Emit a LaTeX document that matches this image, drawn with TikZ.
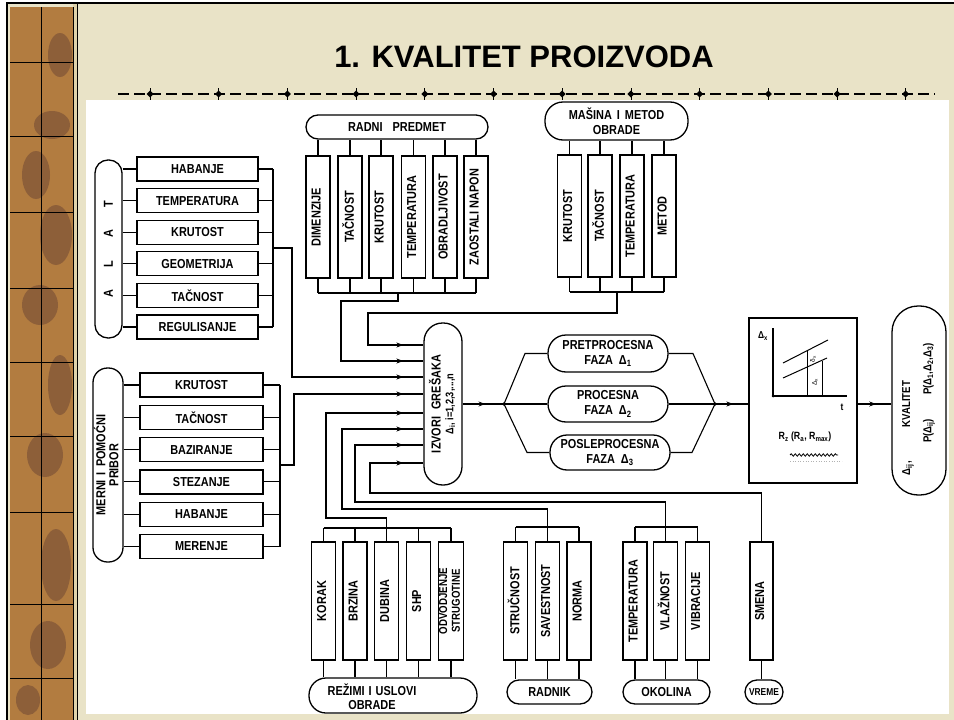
\documentclass[tikz,border=0pt]{standalone}
\usepackage{fontspec}
\setmainfont{Liberation Sans}
\newfontfamily\lblfont[FakeStretch=0.84]{Liberation Sans}
\usetikzlibrary{decorations.markings,decorations.pathmorphing,arrows.meta}
\definecolor{beige}{RGB}{233,227,199}
\definecolor{strip}{RGB}{178,124,64}
\definecolor{stripdark}{RGB}{112,72,52}
\definecolor{cream}{RGB}{222,210,170}
\newcommand{\vtx}[1]{\rotatebox{90}{\begin{tabular}{@{}c@{}}#1\end{tabular}}}
\renewcommand{\arraystretch}{0.85}
\tikzset{
 lbl/.style={font=\lblfont\bfseries\fontsize{13}{15}\selectfont},
 hbox/.style={draw, line width=1.3pt, lbl, minimum width=121pt, minimum height=24pt, inner sep=0pt},
 vbox/.style={draw, line width=1.3pt, lbl, minimum width=24pt, minimum height=122pt, inner sep=0pt},
 pill/.style={draw, line width=1.3pt, lbl, inner sep=0pt, align=center, rounded corners=#1},
 conn/.style={line width=1.1pt},
 flowarr/.style={conn, postaction={decorate}, decoration={markings, mark=at position -20pt with {\arrow{Stealth[length=7pt,width=5pt]}}}},
 midarr/.style={conn, postaction={decorate}, decoration={markings, mark=at position 0.55 with {\arrow{Stealth[length=7pt,width=5pt]}}}},
}
\begin{document}
\begin{tikzpicture}[x=1pt,y=-1pt]
\useasboundingbox (0,0) rectangle (954,720);
% background and frame
\fill[white] (0,0) rectangle (954,720);
\fill[beige] (8,4) rectangle (954,720);
\fill[strip] (10,7) rectangle (73,720);
\begin{scope}[stripdark, opacity=0.55]
\fill (60,55) ellipse (12 and 22);
\fill (52,125) ellipse (18 and 14);
\fill (36,175) ellipse (14 and 24);
\fill (56,235) ellipse (16 and 30);
\fill (40,305) ellipse (18 and 20);
\fill (60,385) ellipse (12 and 30);
\fill (45,455) ellipse (18 and 22);
\fill (56,565) ellipse (15 and 36);
\fill (48,645) ellipse (18 and 24);
\fill (28,700) ellipse (12 and 15);
\end{scope}
\draw[line width=0.6pt] (41,7) -- (41,720);
\foreach \yy in {62,136,212,288,362,436,512,604,678} \draw[line width=0.6pt] (10,\yy) -- (73,\yy);
\fill[cream] (73,4) rectangle (78,720);
\draw[line width=0.5pt] (73,7) -- (73,720);
\draw[line width=0.8pt] (77.5,4) -- (77.5,720);
\draw[line width=2pt] (7,720) -- (7,3) -- (954,3);
% title
\node[font=\bfseries\fontsize{31}{31}\selectfont] (title) at (524,57) {1. KVALITET PROIZVODA};
% dashed rule
\draw[line width=1.6pt, dash pattern=on 11pt off 5pt] (118,94) -- (935,94);
\foreach \k in {0,...,11} {
  \fill ({150+68.7*\k},90.5) -- ({153.5+68.7*\k},94) -- ({150+68.7*\k},97.5) -- ({146.5+68.7*\k},94) -- cycle;
  \draw[line width=0.8pt] ({150+68.7*\k},88) -- ({150+68.7*\k},100);
}
% white panel
\fill[white] (86,100) rectangle (949,714);

% IZVORI GRESAKA
\node[pill=18.5pt, minimum width=38pt, minimum height=162pt] (izv) at (443,404)
  {\vtx{IZVORI\hspace{7pt}GREŠAKA\\ \fontsize{11}{12}\selectfont Δ\textsubscript{i}, i=1,2,3,...,n}};

% ALAT
\node[pill=13pt, minimum width=27pt, minimum height=178pt] (alat) at (108.5,249)
  {\rotatebox{90}{A\hspace{22pt}L\hspace{23pt}A\hspace{22pt}T}};
\node[hbox] (a1) at (197.5,169) {HABANJE};
\node[hbox] (a2) at (197.5,200.6) {TEMPERATURA};
\node[hbox] (a3) at (197.5,232.2) {KRUTOST};
\node[hbox] (a4) at (197.5,263.8) {GEOMETRIJA};
\node[hbox] (a5) at (197.5,295.4) {TAČNOST};
\node[hbox] (a6) at (197.5,327) {REGULISANJE};
\coordinate (abT) at (273,169);
\coordinate (abB) at (273,327);
\coordinate (aout) at (273,248);
\foreach \n in {a1,a2,a3,a4,a5,a6} {
  \draw[conn] (alat.east |- \n.west) -- (\n.west);
  \draw[conn] (\n.east) -- (\n.east -| abT);
}
\draw[conn] (abT) -- (abB);
\draw[flowarr] (aout) -- (292,248) -- (292,377) -- (292,377 -| izv.west);

% RADNI PREDMET
\node[pill=12pt, minimum width=182pt, minimum height=24pt] (rph) at (397,127) {RADNI\hspace{10pt}PREDMET};
\node[vbox] (r1) at (318,217) {\vtx{DIMENZIJE}};
\node[vbox] (r2) at (350,217) {\vtx{TAČNOST}};
\node[vbox] (r3) at (381,217) {\vtx{KRUTOST}};
\node[vbox] (r4) at (413.5,217) {\vtx{TEMPERATURA}};
\node[vbox] (r5) at (445,217) {\vtx{OBRADLJIVOST}};
\node[vbox] (r6) at (476,217) {\vtx{ZAOSTALI NAPON}};
\coordinate (rbL) at (318,293);
\coordinate (rbR) at (476,293);
\coordinate (rout) at (398,293);
\foreach \n in {r1,r2,r3,r4,r5,r6} {
  \draw[conn] (\n.north) -- (\n.north |- rph.south);
  \draw[conn] (\n.south) -- (\n.south |- rbL);
}
\draw[conn] (rbL) -- (rbR);
\draw[flowarr] (rout) -- (398,301) -- (341,301) -- (341,361) -- (341,361 -| izv.west);

% MASINA I METOD OBRADE
\node[pill=18pt, minimum width=143pt, minimum height=38pt] (mh) at (616.5,121) {MAŠINA\hspace{5pt}I\hspace{5pt}METOD\\OBRADE};
\node[vbox] (m1) at (569.5,216) {\vtx{KRUTOST}};
\node[vbox] (m2) at (600,216) {\vtx{TAČNOST}};
\node[vbox] (m3) at (632,216) {\vtx{TEMPERATURA}};
\node[vbox] (m4) at (664,216) {\vtx{METOD}};
\coordinate (mbL) at (569.5,292);
\coordinate (mbR) at (664,292);
\coordinate (mout) at (617,292);
\foreach \n in {m1,m2,m3,m4} {
  \draw[conn] (\n.north) -- (\n.north |- mh.south);
  \draw[conn] (\n.south) -- (\n.south |- mbL);
}
\draw[conn] (mbL) -- (mbR);
\draw[flowarr] (mout) -- (617,313) -- (368,313) -- (368,345) -- (368,345 -| izv.west);

% MERNI I POMOCNI PRIBOR
\node[pill=14.5pt, minimum width=30pt, minimum height=194pt] (mp) at (108,465) {\vtx{MERNI\hspace{5pt}I\hspace{5pt}POMOĆNI\\PRIBOR}};
\node[hbox, minimum width=123pt] (p1) at (201.5,385) {KRUTOST};
\node[hbox, minimum width=123pt] (p2) at (201.5,417.3) {TAČNOST};
\node[hbox, minimum width=123pt] (p3) at (201.5,449.6) {BAZIRANJE};
\node[hbox, minimum width=123pt] (p4) at (201.5,481.9) {STEZANJE};
\node[hbox, minimum width=123pt] (p5) at (201.5,514.2) {HABANJE};
\node[hbox, minimum width=123pt] (p6) at (201.5,546.5) {MERENJE};
\coordinate (pbT) at (280,385);
\coordinate (pbB) at (280,546.5);
\coordinate (pout) at (280,465);
\foreach \n in {p1,p2,p3,p4,p5,p6} {
  \draw[conn] (mp.east |- \n.west) -- (\n.west);
  \draw[conn] (\n.east) -- (\n.east -| pbT);
}
\draw[conn] (pbT) -- (pbB);
\draw[flowarr] (pout) -- (294,465) -- (294,394) -- (294,394 -| izv.west);

% REZIMI I USLOVI OBRADE
\node[vbox, minimum height=118pt] (e1) at (323.5,601) {\vtx{KORAK}};
\node[vbox, minimum height=118pt] (e2) at (355,601) {\vtx{BRZINA}};
\node[vbox, minimum height=118pt] (e3) at (386.5,601) {\vtx{DUBINA}};
\node[vbox, minimum height=118pt] (e4) at (418.5,601) {\vtx{SHP}};
\node[vbox, minimum height=118pt] (e5) at (451,601) {\vtx{\fontsize{11.5}{10}\selectfont ODVODJENJE\\ \fontsize{11.5}{10}\selectfont STRUGOTINE}};
\node[pill=17pt, minimum width=168pt, minimum height=35pt] (eh) at (393,695.5) {};
\node[lbl, align=center, font=\lblfont\bfseries\fontsize{13}{14}\selectfont] (ehl) at (372,697) {REŽIMI\hspace{4pt}I\hspace{4pt}USLOVI\\OBRADE};
\coordinate (ebL) at (323.5,528);
\coordinate (ebR) at (451,528);
\coordinate (eout) at (386.5,528);
\foreach \n in {e1,e2,e3,e4,e5} {
  \draw[conn] (\n.north) -- (\n.north |- ebL);
  \draw[conn] (\n.south) -- (\n.south |- eh.north);
}
\draw[conn] (ebL) -- (ebR);
\draw[flowarr] (eout) -- (386.5,518) -- (326,518) -- (326,413) -- (326,413 -| izv.west);

% RADNIK
\node[vbox, minimum height=118pt] (k1) at (515.5,601) {\vtx{STRUČNOST}};
\node[vbox, minimum height=118pt] (k2) at (547.5,601) {\vtx{SAVESTNOST}};
\node[vbox, minimum height=118pt] (k3) at (579,601) {\vtx{NORMA}};
\node[pill=12pt, minimum width=85pt, minimum height=24pt] (kh) at (549.5,692) {RADNIK};
\coordinate (kbL) at (515.5,527);
\coordinate (kbR) at (579,527);
\coordinate (kout) at (547.5,527);
\foreach \n in {k1,k2,k3} {
  \draw[conn] (\n.north) -- (\n.north |- kbL);
  \draw[conn] (\n.south) -- (\n.south |- kh.north);
}
\draw[conn] (kbL) -- (kbR);
\draw[flowarr] (kout) -- (547.5,509) -- (342,509) -- (342,429) -- (342,429 -| izv.west);

% OKOLINA
\node[vbox, minimum height=118pt] (o1) at (635,601) {\vtx{TEMPERATURA}};
\node[vbox, minimum height=118pt] (o2) at (665.5,601) {\vtx{VLAŽNOST}};
\node[vbox, minimum height=118pt] (o3) at (697.5,601) {\vtx{VIBRACIJE}};
\node[pill=12pt, minimum width=87pt, minimum height=24pt] (oh) at (666.5,692) {OKOLINA};
\coordinate (obL) at (635,527);
\coordinate (obR) at (697.5,527);
\coordinate (oout) at (665.5,527);
\foreach \n in {o1,o2,o3} {
  \draw[conn] (\n.north) -- (\n.north |- obL);
  \draw[conn] (\n.south) -- (\n.south |- oh.north);
}
\draw[conn] (obL) -- (obR);
\draw[flowarr] (oout) -- (665.5,502) -- (355,502) -- (355,445) -- (355,445 -| izv.west);

% VREME
\node[vbox, minimum height=118pt, minimum width=23pt] (s1) at (761.5,601) {\vtx{SMENA}};
\node[pill=12pt, minimum width=38pt, minimum height=24pt, font=\lblfont\bfseries\fontsize{10}{11}\selectfont] (vh) at (764,692) {VREME};
\draw[conn] (s1.south) -- (s1.south |- vh.north);
\draw[flowarr] (s1.north) -- (761.5,493) -- (370,493) -- (370,463) -- (370,463 -| izv.west);

% phases
\coordinate (br) at (504,404);
\coordinate (mg) at (715,404);
\node[pill=18pt, minimum width=120pt, minimum height=37pt] (pre) at (608,353.5) {PRETPROCESNA\\FAZA\hspace{6pt}Δ\textsubscript{1}};
\node[pill=18pt, minimum width=120pt, minimum height=36pt] (pro) at (608,404) {PROCESNA\\FAZA\hspace{6pt}Δ\textsubscript{2}};
\node[pill=17pt, minimum width=120pt, minimum height=35pt] (post) at (610,452.5) {POSLEPROCESNA\\FAZA\hspace{6pt}Δ\textsubscript{3}};
\draw[midarr] (izv.east) -- (br);
\draw[conn] (br) -- (525,353.5) -- (pre.west);
\draw[conn] (br) -- (pro.west);
\draw[conn] (br) -- (527,452.5) -- (post.west);
\draw[conn] (pre.east) -- (693,353.5) -- (mg);
\draw[conn] (pro.east) -- (mg);
\draw[conn] (post.east) -- (692,452.5) -- (mg);
\fill (br) circle (1.8);
\fill (mg) circle (1.8);

% graph box
\node[draw, line width=1.3pt, minimum width=108pt, minimum height=165pt, inner sep=0pt] (gr) at (803,400.5) {};
\draw[midarr] (mg) -- (mg -| gr.west);
\draw[line width=1.2pt] (773,328) -- (773,396) -- (847,396);
\fill (773,396) circle (1.5);
\node[font=\lblfont\bfseries\fontsize{10}{10}\selectfont] (dx) at (763,336) {Δ\textsubscript{x}};
\node[font=\lblfont\bfseries\fontsize{10}{10}\selectfont] (tt) at (842,407) {t};
\draw[line width=1pt] (783,363) -- (828,340);
\draw[line width=1pt] (783,378) -- (827,358);
\draw[line width=0.8pt] (807,351) -- (807,396);
\draw[line width=0.8pt] (822,361) -- (822,396);
\node[font=\fontsize{6.5}{7}\selectfont, inner sep=0pt] (dl) at (813,359) {\rotatebox{90}{δ\textsubscript{x}}};
\node[font=\fontsize{6.5}{7}\selectfont, inner sep=0pt] (Dl) at (815,382) {\rotatebox{90}{Δ\textsubscript{x}}};
\node[font=\lblfont\bfseries\fontsize{10.5}{11}\selectfont] (rz) at (805,437) {R\textsubscript{z} (R\textsubscript{a}, R\textsubscript{max})};
\draw[line width=0.8pt, decorate, decoration={snake, amplitude=1.2pt, segment length=4pt}] (790,455) -- (838,455);
\draw[gray!60, line width=0.6pt, dotted] (790,461) -- (842,461);

% KVALITET
\node[pill=26pt, minimum width=54pt, minimum height=189pt] (kv) at (919,400.5) {};
\draw[midarr] (gr.east |- mg) -- (kv.west |- mg);
\node[font=\lblfont\bfseries\fontsize{11.5}{12}\selectfont, inner sep=0pt] (kv1) at (908,428) {\rotatebox{90}{Δ\textsubscript{ij},\hspace{34pt}KVALITET}};
\node[font=\lblfont\bfseries\fontsize{11.5}{12}\selectfont, inner sep=0pt] (kv2) at (929,393) {\rotatebox{90}{P(Δ\textsubscript{ij})\hspace{24pt}P(Δ\textsubscript{1},Δ\textsubscript{2},Δ\textsubscript{3})}};
\end{tikzpicture}
\end{document}
